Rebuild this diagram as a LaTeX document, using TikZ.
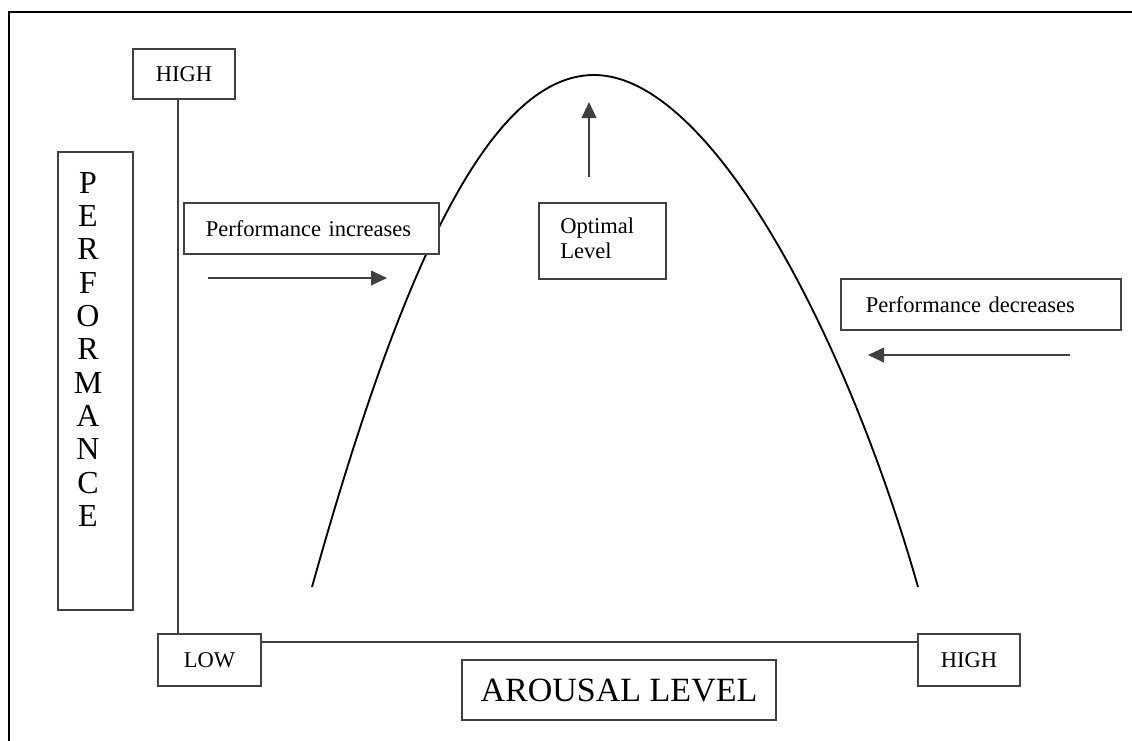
\documentclass[tikz,border=0pt]{standalone}
\usepackage{fontspec}
\setmainfont{Liberation Serif}
\usetikzlibrary{arrows.meta}
\tikzset{
  x=0.75pt, y=-0.75pt,
  boxy/.style={draw=black!75, line width=1.4pt, inner sep=0pt, fill=white},
  axisline/.style={draw=black!75, line width=1.3pt},
  arr/.style={draw=black!75, line width=1.5pt, -{Triangle[length=12pt,width=11pt]}},
  lbl/.style={font=\fontsize{16.9}{19}\selectfont},
}
\begin{document}
\begin{tikzpicture}
\useasboundingbox (0,0) rectangle (1132,740);
% frame
\draw[line width=2.2pt] (9,741) -- (9,12) -- (1133,12);

% boxes
\node[boxy, lbl, minimum width=76.5pt, minimum height=37.5pt] (highL) at (184,74) {HIGH};
\node[boxy, lbl, minimum width=77pt, minimum height=39pt] (low) at (209.5,660) {LOW};
\node[boxy, lbl, minimum width=76.5pt, minimum height=39pt] (highR) at (969,660) {HIGH};
\node[boxy, minimum width=235.5pt, minimum height=45pt, font=\fontsize{25.5}{28}\selectfont] (arousal) at (619,690) {AROUSAL LEVEL};
\node[boxy, minimum width=56pt, minimum height=343.5pt] (perf) at (95.5,381) {};
\node[anchor=north, align=center, inner sep=0pt, font=\fontsize{24}{25}\selectfont] (perftext) at (88,172)
  {P\\E\\R\\F\\O\\R\\M\\A\\N\\C\\E};

% axes
\coordinate (axtop) at ([xshift=-4.5pt]highL.south);
\draw[axisline] (axtop) -- (axtop |- low.north);
\draw[axisline] ([yshift=-6.75pt]low.north east) -- ([yshift=-6.75pt]highR.north west);

% curve
\coordinate (cL) at (312,587);
\coordinate (cTop) at (594,75);
\coordinate (cR) at (918,587);
\draw[line width=1.4pt] (cL) .. controls (395,290) and (484,75) .. (cTop)
  .. controls (712,75) and (848,340) .. (cR);

% labels
\node[boxy, lbl, minimum width=191pt, minimum height=38pt, anchor=north west, align=left, inner xsep=16.5pt, text width=158pt] (inc) at (183,202) {Performance increases};
\node[boxy, lbl, minimum width=210pt, minimum height=38pt, anchor=north west, align=left, inner xsep=18.75pt, text width=172.5pt] (dec) at (840,278) {Performance decreases};
\node[boxy, minimum width=95pt, minimum height=57pt, anchor=north west] (opt) at (538,202) {};
\node[lbl, anchor=north west, align=left, inner sep=0pt, font=\fontsize{16.9}{18.5}\selectfont] (opttext) at (560,218) {Optimal\\Level};

% arrows
\coordinate (incA) at (208,278);
\coordinate (incB) at (387,278);
\draw[arr] (incA) -- (incB);
\coordinate (decA) at (1070,355);
\coordinate (decB) at (868,355);
\draw[arr] (decA) -- (decB);
\coordinate (optA) at (589,177);
\coordinate (optB) at (589,102);
\draw[arr] (optA) -- (optB);
\end{tikzpicture}
\end{document}
